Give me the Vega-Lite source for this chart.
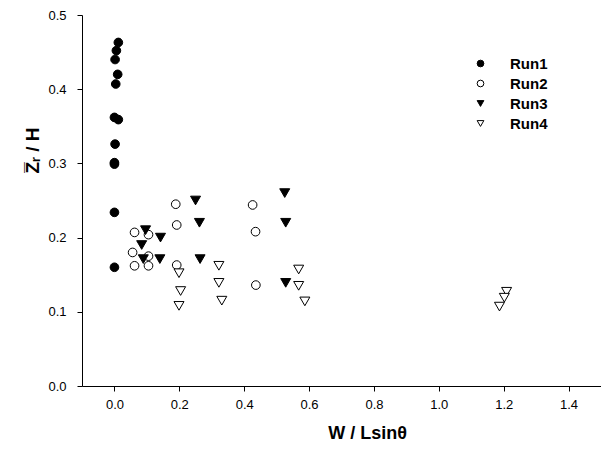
{
  "$schema": "https://vega.github.io/schema/vega-lite/v6.json",
  "width": 519,
  "height": 371,
  "autosize": "none",
  "padding": {"left": 82, "top": 15, "right": 0, "bottom": 66},
  "background": "white",
  "config": {
    "view": {"stroke": null},
    "font": "Liberation Sans",
    "axis": {
      "grid": false,
      "domainColor": "black",
      "domainWidth": 1,
      "tickColor": "black",
      "tickSize": 5,
      "labelColor": "black",
      "labelFontSize": 13,
      "labelFont": "Liberation Sans",
      "titleColor": "black",
      "titleFont": "Liberation Sans",
      "titleFontWeight": "bold",
      "titleFontSize": 18
    },
    "legend": {
      "title": null,
      "labelFontSize": 15,
      "labelFontWeight": "bold",
      "labelColor": "black",
      "symbolSize": 45,
      "symbolStrokeWidth": 1,
      "rowPadding": 4,
      "labelOffset": 22
    }
  },
  "data": {
    "values": [
      {"x": 0.012, "y": 0.463, "run": "Run1"},
      {"x": 0.006, "y": 0.452, "run": "Run1"},
      {"x": 0.002, "y": 0.440, "run": "Run1"},
      {"x": 0.010, "y": 0.420, "run": "Run1"},
      {"x": 0.004, "y": 0.407, "run": "Run1"},
      {"x": 0.000, "y": 0.362, "run": "Run1"},
      {"x": 0.012, "y": 0.359, "run": "Run1"},
      {"x": 0.002, "y": 0.326, "run": "Run1"},
      {"x": 0.000, "y": 0.301, "run": "Run1"},
      {"x": 0.000, "y": 0.299, "run": "Run1"},
      {"x": 0.000, "y": 0.234, "run": "Run1"},
      {"x": 0.000, "y": 0.160, "run": "Run1"},
      {"x": 0.189, "y": 0.245, "run": "Run2"},
      {"x": 0.426, "y": 0.244, "run": "Run2"},
      {"x": 0.192, "y": 0.217, "run": "Run2"},
      {"x": 0.435, "y": 0.208, "run": "Run2"},
      {"x": 0.062, "y": 0.207, "run": "Run2"},
      {"x": 0.105, "y": 0.204, "run": "Run2"},
      {"x": 0.056, "y": 0.180, "run": "Run2"},
      {"x": 0.105, "y": 0.175, "run": "Run2"},
      {"x": 0.062, "y": 0.162, "run": "Run2"},
      {"x": 0.105, "y": 0.162, "run": "Run2"},
      {"x": 0.192, "y": 0.163, "run": "Run2"},
      {"x": 0.436, "y": 0.136, "run": "Run2"},
      {"x": 0.250, "y": 0.250, "run": "Run3"},
      {"x": 0.525, "y": 0.260, "run": "Run3"},
      {"x": 0.262, "y": 0.220, "run": "Run3"},
      {"x": 0.528, "y": 0.220, "run": "Run3"},
      {"x": 0.096, "y": 0.210, "run": "Run3"},
      {"x": 0.142, "y": 0.200, "run": "Run3"},
      {"x": 0.084, "y": 0.190, "run": "Run3"},
      {"x": 0.089, "y": 0.171, "run": "Run3"},
      {"x": 0.140, "y": 0.171, "run": "Run3"},
      {"x": 0.264, "y": 0.171, "run": "Run3"},
      {"x": 0.528, "y": 0.139, "run": "Run3"},
      {"x": 0.322, "y": 0.162, "run": "Run4"},
      {"x": 0.199, "y": 0.152, "run": "Run4"},
      {"x": 0.568, "y": 0.157, "run": "Run4"},
      {"x": 0.322, "y": 0.139, "run": "Run4"},
      {"x": 0.568, "y": 0.135, "run": "Run4"},
      {"x": 0.204, "y": 0.128, "run": "Run4"},
      {"x": 0.331, "y": 0.115, "run": "Run4"},
      {"x": 0.587, "y": 0.114, "run": "Run4"},
      {"x": 0.199, "y": 0.108, "run": "Run4"},
      {"x": 1.209, "y": 0.127, "run": "Run4"},
      {"x": 1.202, "y": 0.119, "run": "Run4"},
      {"x": 1.187, "y": 0.107, "run": "Run4"}
    ]
  },
  "encoding": {
    "x": {
      "field": "x",
      "type": "quantitative",
      "scale": {"domain": [-0.1, 1.5], "nice": false, "zero": false},
      "axis": {
        "title": "W /  Lsinθ",
        "values": [0, 0.2, 0.4, 0.6, 0.8, 1.0, 1.2, 1.4],
        "format": ".1f",
        "labelPadding": 7,
        "titleX": 285,
        "titleY": 47,
        "titleAlign": "center",
        "titleBaseline": "middle"
      }
    },
    "y": {
      "field": "y",
      "type": "quantitative",
      "scale": {"domain": [0, 0.5], "nice": false},
      "axis": {
        "title": "Z̅ᵣ / H",
        "values": [0, 0.1, 0.2, 0.3, 0.4, 0.5],
        "format": ".1f",
        "labelPadding": 11,
        "titleX": -50,
        "titleY": 135,
        "titleAlign": "center",
        "titleBaseline": "middle",
        "titleFontSize": 19
      }
    },
    "shape": {
      "field": "run",
      "type": "nominal",
      "scale": {"domain": ["Run1", "Run2", "Run3", "Run4"], "range": ["circle", "circle", "triangle-down", "triangle-down"]},
      "legend": {"orient": "none", "legendX": 391, "legendY": 41}
    },
    "fill": {
      "field": "run",
      "type": "nominal",
      "scale": {"domain": ["Run1", "Run2", "Run3", "Run4"], "range": ["black", "white", "black", "white"]},
      "legend": {"orient": "none", "legendX": 391, "legendY": 41}
    },
    "stroke": {
      "field": "run",
      "type": "nominal",
      "scale": {"domain": ["Run1", "Run2", "Run3", "Run4"], "range": ["black", "black", "black", "black"]},
      "legend": {"orient": "none", "legendX": 391, "legendY": 41}
    }
  },
  "layer": [
    {
      "transform": [{"filter": {"field": "run", "oneOf": ["Run1", "Run2"]}}],
      "mark": {"type": "point", "filled": true, "strokeWidth": 1, "size": 75, "opacity": 1}
    },
    {
      "transform": [{"filter": {"field": "run", "oneOf": ["Run3", "Run4"]}}],
      "mark": {"type": "point", "filled": true, "strokeWidth": 1, "size": 100, "opacity": 1}
    }
  ]
}
